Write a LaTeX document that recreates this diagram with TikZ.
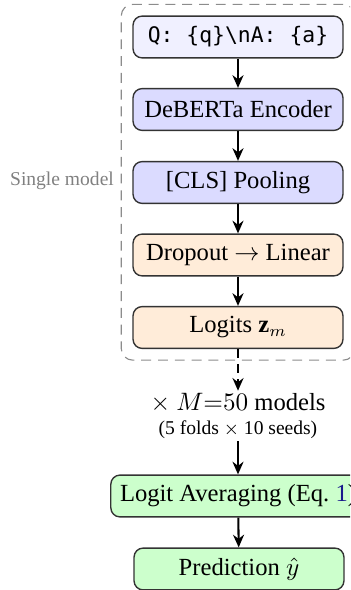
\documentclass[tikz,border=0pt]{standalone}
\usepackage{fontspec}
\setmainfont{Liberation Serif}
\newfontfamily\codefont{DejaVu Sans Mono}
\usetikzlibrary{arrows.meta,fit,positioning}
\definecolor{linkblue}{rgb}{0.1,0.1,0.55}
\tikzset{
  px/.style={x=0.4348pt,y=-0.4348pt},
  flowbox/.style={draw=black!80,line width=0.6pt,rounded corners=4pt,
    minimum width=91.3pt,minimum height=18.2pt,inner xsep=4pt,inner ysep=2pt,
    font=\fontsize{10.7}{12.8}\selectfont},
  inbox/.style={flowbox,fill=blue!6},
  encbox/.style={flowbox,fill=blue!14},
  headbox/.style={flowbox,fill=orange!15},
  outbox/.style={flowbox,fill=green!20},
  flowarrow/.style={-{Stealth[length=5.5pt,width=4.8pt]},line width=0.9pt,black},
  groupbox/.style={draw=black!45,dash pattern=on 4.3pt off 3pt,line width=0.5pt,rounded corners=5pt,inner sep=4.8pt},
}
\begin{document}
\begin{tikzpicture}[px]
\clip (0,0) rectangle (350,590);
\useasboundingbox (0,0) rectangle (350,590);
\node[inbox] (q) at (238,37) {\codefont\fontsize{9.3}{11}\selectfont Q: \{q\}\textbackslash nA: \{a\}};
\node[encbox] (enc) at (238,109.5) {DeBERTa Encoder};
\node[encbox] (cls) at (238,182.5) {[CLS] Pooling};
\node[headbox] (drop) at (238,255) {Dropout $\rightarrow$ Linear};
\node[headbox] (logits) at (238,327.5) {Logits $\mathbf{z}_m$};
\node[groupbox,fit=(q)(logits)] (single) {};
\node[text=gray,font=\fontsize{8.5}{10}\selectfont] (lbl) at (62,181) {Single model};
\node[align=center,inner sep=1pt,font=\fontsize{10.7}{12.8}\selectfont] (ens) at (238,416)
  {$\times$ $M{=}50$ models\\[-2.5pt]{\fontsize{8.5}{10}\selectfont (5 folds $\times$ 10 seeds)}};
\node[outbox] (avg) at (238,496) {Logit Averaging (Eq.~\textcolor{linkblue}{1})};
\node[outbox] (pred) at (239,569) {Prediction $\hat{y}$};
\draw[flowarrow] (q) -- (enc);
\draw[flowarrow] (enc) -- (cls);
\draw[flowarrow] (cls) -- (drop);
\draw[flowarrow] (drop) -- (logits);
\draw[flowarrow,dash pattern=on 4pt off 2.5pt] (logits) -- (ens);
\draw[flowarrow] (ens) -- (avg);
\draw[flowarrow] (avg) -- (pred);
\end{tikzpicture}
\end{document}
